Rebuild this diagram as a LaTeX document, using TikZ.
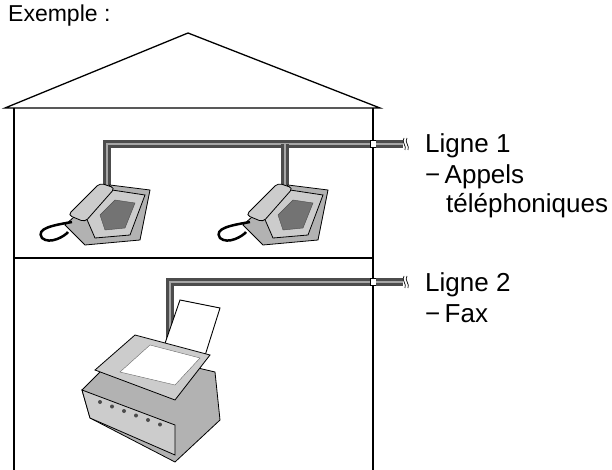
\documentclass[tikz,border=0pt]{standalone}
\usepackage{fontspec}
\setmainfont{Liberation Sans}
\begin{document}
\begin{tikzpicture}[x=1pt,y=-1pt,
  wall/.style={line width=1.3pt,black},
  wire/.style={line width=3pt,black!70,double=black!35,double distance=1.2pt},
  lbl/.style={anchor=west,font=\fontsize{26}{28}\selectfont,inner sep=0pt},
  body/.style={draw=black,line width=0.8pt,fill=black!30},
  dev/.style={draw=black,line width=0.8pt,fill=black!20}]
\useasboundingbox (0,0) rectangle (612,470);
\node[lbl,font=\fontsize{23}{25}\selectfont] (ex) at (8,16) {Exemple :};
% house
\draw[wall] (5,108) -- (188,33) -- (380,108) -- cycle;
\draw[wall] (14,108) -- (14,470);
\draw[wall] (373,108) -- (373,470);
\draw[wall] (14,258) -- (373,258);
% jacks
\node[draw,fill=white,minimum width=6pt,minimum height=7pt,inner sep=0pt,line width=0.8pt] (j1) at (373,144) {};
\node[draw,fill=white,minimum width=6pt,minimum height=7pt,inner sep=0pt,line width=0.8pt] (j2) at (373,282) {};
\coordinate (s1) at (403,144);
\coordinate (s2) at (403,282);
\draw[wire] (j1) -- (s1);
\draw[wire] (j2) -- (s2);
\foreach \s in {s1,s2}{
  \draw[line width=0.7pt] ([xshift=1pt,yshift=6pt]\s) .. controls ([xshift=-2pt,yshift=2pt]\s) and ([xshift=4pt,yshift=-2pt]\s) .. ([xshift=2pt,yshift=-6pt]\s);
  \draw[line width=0.7pt] ([xshift=4pt,yshift=6pt]\s) .. controls ([xshift=1pt,yshift=2pt]\s) and ([xshift=7pt,yshift=-2pt]\s) .. ([xshift=5pt,yshift=-6pt]\s);
}
\node[lbl] (l1) at (425,146) {Ligne 1};
\node[lbl] (a1) at (425,177) {\textminus\,Appels};
\node[lbl] (a2) at (446,206) {téléphoniques};
\node[lbl] (l2) at (425,285) {Ligne 2};
\node[lbl] (f1) at (425,314) {\textminus\,Fax};
% wires
\draw[wire] (j1) -- (107,144) -- (107,185);
\draw[wire] (285,144) -- (285,185);
\draw[wire] (j2) -- (170,282) -- (170,345);
% phones
\foreach \px in {0,178}{
  \begin{scope}[xshift=\px]
  \draw[body] (65,225) -- (110,185) -- (150,190) -- (140,240) -- (85,245) -- cycle;
  \draw[dev] (85,215) -- (112,190) -- (145,195) -- (130,235) -- (95,238) -- cycle;
  \draw[black!70,fill=black!55] (100,215) -- (115,200) -- (135,203) -- (125,228) -- (105,230) -- cycle;
  \draw[dev,rounded corners=4pt] (68,215) -- (100,183) -- (115,188) -- (85,222) -- cycle;
  \draw[line width=2.5pt,black] (72,222) .. controls (55,225) and (35,228) .. (42,238) .. controls (50,245) and (65,236) .. (68,232);
  \end{scope}
}
% fax
\draw[black,line width=0.9pt,fill=white] (180,300) -- (220,308) -- (203,362) -- (162,352) -- cycle;
\draw[body] (82,390) -- (122,350) -- (215,372) -- (220,420) -- (175,462) -- (90,418) -- cycle;
\draw[dev] (95,370) -- (135,335) -- (210,355) -- (175,400) -- cycle;
\draw[black!60,fill=white] (120,372) -- (150,345) -- (200,358) -- (175,385) -- cycle;
\draw[dev] (82,390) -- (175,425) -- (175,455) -- (90,418) -- cycle;
\foreach \i in {0,...,5}{\fill[black!70] (100+\i*12,402+\i*4.5) circle (2pt);}
\end{tikzpicture}
\end{document}
